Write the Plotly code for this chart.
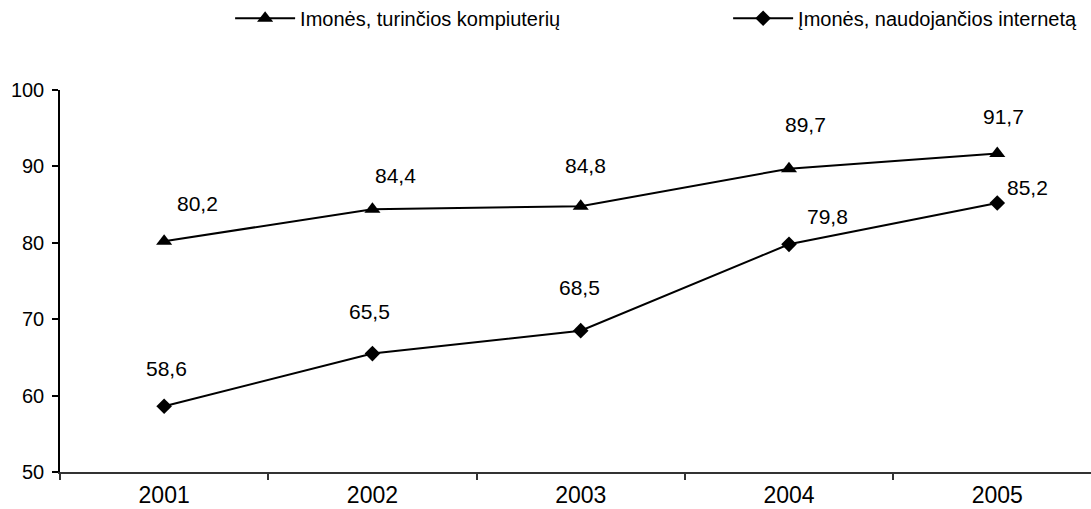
import plotly.graph_objects as go

# Share of enterprises (%), by year
years = ["2001", "2002", "2003", "2004", "2005"]
computers = [80.2, 84.4, 84.8, 89.7, 91.7]
internet = [58.6, 65.5, 68.5, 79.8, 85.2]
name_computers = "Imonės, turinčios kompiuterių"
name_internet = "Įmonės, naudojančios internetą"
y_ticks = [50, 60, 70, 80, 90, 100]

# label placement offsets (px) relative to each marker
off_computers = [(33, 38), (23, 34), (5, 41), (17, 44), (6, 37)]
off_internet = [(2, 38), (-3, 42), (-1, 43), (39, 28), (30, 16)]

FONT = "Arial, Liberation Sans, sans-serif"

fig = go.Figure()
fig.add_trace(go.Scatter(
    x=years, y=computers, name=name_computers, mode="lines+markers",
    line=dict(color="black", width=2),
    marker=dict(symbol="triangle-up", size=14, color="black"),
))
fig.add_trace(go.Scatter(
    x=years, y=internet, name=name_internet, mode="lines+markers",
    line=dict(color="black", width=2),
    marker=dict(symbol="diamond", size=12, color="black"),
))


def fmt(v):
    return f"{v:.1f}".replace(".", ",")


annotations = []
for vals, offs in ((computers, off_computers), (internet, off_internet)):
    # category index positions on the x axis
    for i, (v, (dx, dy)) in enumerate(zip(vals, offs)):
        annotations.append(dict(
            x=i, y=v, xref="x", yref="y", text=fmt(v), showarrow=False,
            xanchor="center", yanchor="middle",
            xshift=dx, yshift=dy,
            font=dict(family=FONT, size=21, color="black"),
        ))

fig.update_layout(
    width=1091, height=509,
    margin=dict(l=60, r=0, t=90, b=37, autoexpand=False),
    paper_bgcolor="white", plot_bgcolor="white",
    font=dict(family=FONT, color="black"),
    annotations=annotations,
    showlegend=True,
    legend=dict(
        orientation="h", x=0.165, y=1.188, xanchor="left", yanchor="middle",
        font=dict(family=FONT, size=20, color="black"),
        entrywidth=423, itemwidth=60, tracegroupgap=0,
        bgcolor="rgba(0,0,0,0)",
    ),
    xaxis=dict(
        type="category", range=[-0.5, 4.45],
        showline=True, linecolor="#333333", linewidth=1.5,
        ticks="outside", tickson="boundaries", ticklen=6,
        tickcolor="#333333", tickwidth=1.5, ticklabelstandoff=2,
        showgrid=False, zeroline=False,
        tickfont=dict(family=FONT, size=23, color="black"),
    ),
    yaxis=dict(
        range=[50, 100], tickvals=y_ticks,
        showline=True, linecolor="black", linewidth=1.5,
        ticks="outside", ticklen=6, tickcolor="black", tickwidth=1.5,
        ticklabelstandoff=4,
        showgrid=False, zeroline=False,
        tickfont=dict(family=FONT, size=20, color="black"),
    ),
)

fig.write_html("out.html")
